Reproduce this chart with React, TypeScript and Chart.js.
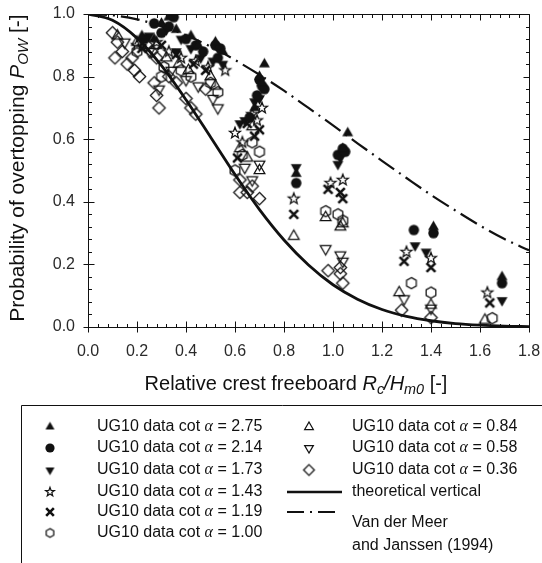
import React, { useEffect, useRef } from 'react';
import { Chart, registerables } from 'chart.js';
Chart.register(...registerables);

// ---- axis ticks ----
const xMajorTicks = [0, 0.2, 0.4, 0.6, 0.8, 1.0, 1.2, 1.4, 1.6, 1.8];
const yMajorTicks = [0, 0.2, 0.4, 0.6, 0.8, 1.0];

// ---- curves ----
const curveX = [0, 0.1, 0.2, 0.3, 0.4, 0.5, 0.6, 0.7, 0.8, 0.9, 1.0, 1.1, 1.2, 1.3, 1.4, 1.5, 1.6, 1.7, 1.8];
const theoreticalY = [1, 0.98, 0.923, 0.835, 0.726, 0.607, 0.487, 0.375, 0.278, 0.198, 0.135, 0.089, 0.056, 0.034, 0.02, 0.011, 0.006, 0.003, 0.0015];
const vdmY = [1, 0.996, 0.983, 0.961, 0.932, 0.896, 0.853, 0.806, 0.755, 0.7, 0.644, 0.587, 0.531, 0.476, 0.422, 0.372, 0.324, 0.281, 0.245];

// ---- data series [Rc/Hm0, Pow] ----
const cot275: [number, number][] = [
  [0.22, 0.93], [0.27, 0.92], [0.3, 0.97], [0.33, 0.99], [0.36, 0.95], [0.42, 0.93], [0.45, 0.9], [0.52, 0.91],
  [0.55, 0.88], [0.68, 0.7], [0.7, 0.8], [0.71, 0.78], [0.72, 0.84], [0.85, 0.49], [1.04, 0.57], [1.06, 0.62],
  [1.41, 0.32], [1.69, 0.16],
];
const cot214: [number, number][] = [
  [0.23, 0.92], [0.27, 0.97], [0.3, 0.94], [0.33, 0.96], [0.35, 0.99], [0.4, 0.92], [0.44, 0.9], [0.47, 0.88],
  [0.52, 0.9], [0.53, 0.86], [0.54, 0.89], [0.66, 0.67], [0.69, 0.74], [0.7, 0.79], [0.71, 0.77], [0.72, 0.76],
  [0.85, 0.46], [1.02, 0.55], [1.04, 0.57], [1.05, 0.56], [1.33, 0.31], [1.41, 0.3], [1.69, 0.14],
];
const cot173: [number, number][] = [
  [0.25, 0.93], [0.32, 0.95], [0.36, 0.88], [0.38, 0.92], [0.42, 0.89], [0.46, 0.86], [0.51, 0.85], [0.55, 0.84],
  [0.62, 0.65], [0.64, 0.66], [0.68, 0.72], [0.7, 0.73], [0.85, 0.51], [1.02, 0.52], [1.03, 0.54], [1.335, 0.26],
  [1.38, 0.24], [1.69, 0.085],
];
const cot143: [number, number][] = [
  [0.2, 0.9], [0.28, 0.91], [0.33, 0.88], [0.38, 0.86], [0.44, 0.85], [0.49, 0.83], [0.56, 0.82], [0.6, 0.62],
  [0.63, 0.59], [0.67, 0.68], [0.69, 0.66], [0.71, 0.7], [0.84, 0.41], [0.99, 0.46], [1.04, 0.47], [1.3, 0.24],
  [1.4, 0.22], [1.63, 0.11],
];
const cot119: [number, number][] = [
  [0.22, 0.89], [0.3, 0.9], [0.36, 0.87], [0.43, 0.84], [0.48, 0.82], [0.61, 0.54], [0.65, 0.65], [0.68, 0.61],
  [0.7, 0.63], [0.84, 0.36], [0.98, 0.44], [1.03, 0.43], [1.04, 0.41], [1.29, 0.21], [1.4, 0.19], [1.64, 0.077],
];
const cot100: [number, number][] = [
  [0.2, 0.88], [0.3, 0.8], [0.31, 0.83], [0.38, 0.82], [0.42, 0.8], [0.5, 0.78], [0.53, 0.75], [0.6, 0.5],
  [0.63, 0.55], [0.67, 0.59], [0.7, 0.56], [0.97, 0.37], [1.02, 0.36], [1.04, 0.34], [1.32, 0.14], [1.4, 0.11],
  [1.65, 0.028],
];
const cot084: [number, number][] = [
  [0.12, 0.93], [0.2, 0.91], [0.28, 0.9], [0.32, 0.86], [0.37, 0.84], [0.41, 0.82], [0.5, 0.8], [0.52, 0.77],
  [0.62, 0.57], [0.65, 0.54], [0.67, 0.64], [0.7, 0.5], [0.84, 0.29], [0.97, 0.35], [1.03, 0.32], [1.04, 0.33],
  [1.27, 0.11], [1.4, 0.07], [1.62, 0.022],
];
const cot058: [number, number][] = [
  [0.15, 0.91], [0.25, 0.88], [0.29, 0.76], [0.34, 0.82], [0.4, 0.79], [0.45, 0.77], [0.51, 0.73], [0.53, 0.7],
  [0.64, 0.51], [0.67, 0.47], [0.7, 0.52], [0.97, 0.25], [1.03, 0.23], [1.04, 0.21], [1.29, 0.09], [1.4, 0.06],
];
const cot036: [number, number][] = [
  [0.1, 0.94], [0.11, 0.86], [0.12, 0.91], [0.14, 0.88], [0.16, 0.84], [0.18, 0.86], [0.19, 0.82], [0.21, 0.8],
  [0.24, 0.9], [0.26, 0.88], [0.27, 0.78], [0.28, 0.86], [0.28, 0.74], [0.29, 0.7], [0.33, 0.8], [0.36, 0.78],
  [0.4, 0.73], [0.42, 0.7], [0.44, 0.68], [0.48, 0.76], [0.62, 0.47], [0.62, 0.43], [0.65, 0.43], [0.67, 0.45],
  [0.7, 0.41], [0.98, 0.18], [1.03, 0.19], [1.03, 0.17], [1.04, 0.14], [1.28, 0.054], [1.4, 0.03],
];

const seriesLabels = ['2.75', '2.14', '1.73', '1.43', '1.19', '1.00', '0.84', '0.58', '0.36'];

const SANS = "'Liberation Sans', Arial, sans-serif";
const SERIF = "'Liberation Serif', 'Times New Roman', serif";
const INK = '#111111';

type Kind = 'triUp' | 'circle' | 'triDown' | 'star' | 'cross' | 'hex' | 'triUpO' | 'triDownO' | 'diamond';

function makeMarker(kind: Kind, r: number): HTMLCanvasElement {
  const pad = 2;
  const size = Math.ceil(2 * r + 2 * pad);
  const c = document.createElement('canvas');
  c.width = size;
  c.height = size;
  const ctx = c.getContext('2d')!;
  const cx = size / 2;
  const cy = size / 2;
  ctx.strokeStyle = INK;
  ctx.fillStyle = INK;
  ctx.lineWidth = 1.25;
  ctx.lineJoin = 'miter';
  const poly = (n: number, rot: number, rr: number) => {
    ctx.beginPath();
    for (let i = 0; i < n; i++) {
      const a = rot + (i * 2 * Math.PI) / n;
      const px = cx + rr * Math.cos(a);
      const py = cy + rr * Math.sin(a);
      if (i === 0) ctx.moveTo(px, py);
      else ctx.lineTo(px, py);
    }
    ctx.closePath();
  };
  switch (kind) {
    case 'triUp':
      poly(3, -Math.PI / 2, r);
      ctx.fill();
      break;
    case 'triDown':
      poly(3, Math.PI / 2, r);
      ctx.fill();
      break;
    case 'circle':
      ctx.beginPath();
      ctx.arc(cx, cy, r, 0, Math.PI * 2);
      ctx.fill();
      break;
    case 'triUpO':
      poly(3, -Math.PI / 2, r);
      ctx.stroke();
      break;
    case 'triDownO':
      poly(3, Math.PI / 2, r);
      ctx.stroke();
      break;
    case 'diamond':
      poly(4, -Math.PI / 2, r);
      ctx.stroke();
      break;
    case 'hex':
      poly(6, -Math.PI / 2, r);
      ctx.stroke();
      break;
    case 'star': {
      ctx.beginPath();
      for (let i = 0; i < 10; i++) {
        const a = -Math.PI / 2 + (i * Math.PI) / 5;
        const rr = i % 2 === 0 ? r : r * 0.42;
        const px = cx + rr * Math.cos(a);
        const py = cy + rr * Math.sin(a);
        if (i === 0) ctx.moveTo(px, py);
        else ctx.lineTo(px, py);
      }
      ctx.closePath();
      ctx.stroke();
      break;
    }
    case 'cross': {
      ctx.lineWidth = 2.6;
      ctx.lineCap = 'butt';
      const d = r * 0.8;
      ctx.beginPath();
      ctx.moveTo(cx - d, cy - d);
      ctx.lineTo(cx + d, cy + d);
      ctx.moveTo(cx + d, cy - d);
      ctx.lineTo(cx - d, cy + d);
      ctx.stroke();
      break;
    }
  }
  return c;
}

const kinds: Kind[] = ['triUp', 'circle', 'triDown', 'star', 'cross', 'hex', 'triUpO', 'triDownO', 'diamond'];
const plotRadius: Record<Kind, number> = {
  triUp: 6.3, circle: 5.2, triDown: 6.3, star: 5.8, cross: 5.5, hex: 5.6, triUpO: 6.2, triDownO: 6.2, diamond: 6.2,
};
const legendRadius: Record<Kind, number> = {
  triUp: 5.2, circle: 4.6, triDown: 5.2, star: 4.6, cross: 4.8, hex: 4.4, triUpO: 5, triDownO: 5, diamond: 5.4,
};

type Seg = { t: string; it?: boolean; sub?: boolean; serif?: boolean };

function segFont(s: Seg, size: number) {
  const sz = s.sub ? size * 0.72 : size;
  return `${s.it ? 'italic ' : ''}${sz}px ${s.serif ? SERIF : SANS}`;
}

function drawRich(ctx: CanvasRenderingContext2D, segs: Seg[], x: number, y: number, size: number, align: 'left' | 'center') {
  let total = 0;
  const widths = segs.map((s) => {
    ctx.font = segFont(s, size);
    const w = ctx.measureText(s.t).width;
    total += w;
    return w;
  });
  let cx = align === 'center' ? x - total / 2 : x;
  ctx.textBaseline = 'middle';
  ctx.textAlign = 'left';
  segs.forEach((s, i) => {
    ctx.font = segFont(s, size);
    ctx.fillText(s.t, cx, s.sub ? y + size * 0.28 : y);
    cx += widths[i];
  });
}

const framePlugin = {
  id: 'frame',
  afterDraw(chart: any) {
    const { ctx, chartArea: a, scales } = chart;
    const xs = scales.x;
    const ys = scales.y;
    ctx.save();
    ctx.strokeStyle = INK;
    ctx.lineWidth = 1;
    const L = Math.round(a.left) + 0.5;
    const R = Math.round(a.right) + 0.5;
    const T = Math.round(a.top) + 0.5;
    const B = Math.round(a.bottom) + 0.5;
    ctx.beginPath();
    ctx.rect(L, T, R - L, B - T);
    ctx.stroke();
    ctx.beginPath();
    for (let i = 0; i <= 45; i++) {
      const v = i * 0.04;
      const px = Math.round(xs.getPixelForValue(v)) + 0.5;
      const major = i % 5 === 0;
      const inner = major ? 6 : 3.5;
      ctx.moveTo(px, B + (major ? 5 : 0));
      ctx.lineTo(px, B - inner);
      ctx.moveTo(px, T);
      ctx.lineTo(px, T + inner);
    }
    for (let i = 0; i <= 25; i++) {
      const v = i * 0.04;
      const py = Math.round(ys.getPixelForValue(v)) + 0.5;
      const major = i % 5 === 0;
      const inner = major ? 6 : 3.5;
      ctx.moveTo(L - (major ? 5 : 0), py);
      ctx.lineTo(L + inner, py);
      ctx.moveTo(R, py);
      ctx.lineTo(R - inner, py);
    }
    ctx.stroke();

    // axis titles
    ctx.fillStyle = INK;
    drawRich(
      ctx,
      [
        { t: 'Relative crest freeboard ' },
        { t: 'R', it: true },
        { t: 'c', it: true, sub: true },
        { t: '/', it: true },
        { t: 'H', it: true },
        { t: 'm0', it: true, sub: true },
        { t: ' [-]' },
      ],
      296,
      384,
      20,
      'center'
    );
    ctx.save();
    ctx.translate(18, 168);
    ctx.rotate(-Math.PI / 2);
    drawRich(
      ctx,
      [{ t: 'Probability of overtopping ' }, { t: 'P', it: true }, { t: 'OW', it: true, sub: true }, { t: ' [-]' }],
      0,
      0,
      21,
      'center'
    );
    ctx.restore();

    // legend box
    ctx.beginPath();
    ctx.rect(21.5, 405.5, 560, 200);
    ctx.stroke();
    const rows = [427, 448, 470, 492, 512, 533];
    const markers = kinds.map((k) => makeMarker(k, legendRadius[k]));
    const label = (v: string, x: number, y: number) =>
      drawRich(ctx, [{ t: 'UG10 data cot ' }, { t: 'α', it: true, serif: true }, { t: ' = ' + v }], x, y, 16, 'left');
    for (let i = 0; i < 6; i++) {
      const m = markers[i];
      ctx.drawImage(m, 50 - m.width / 2, rows[i] - m.height / 2);
      label(seriesLabels[i], 97, rows[i]);
    }
    for (let i = 6; i < 9; i++) {
      const m = markers[i];
      const r = rows[i - 6];
      ctx.drawImage(m, 309 - m.width / 2, r - m.height / 2);
      label(seriesLabels[i], 352, r);
    }
    ctx.lineWidth = 2.6;
    ctx.beginPath();
    ctx.moveTo(287, rows[3]);
    ctx.lineTo(342, rows[3]);
    ctx.stroke();
    ctx.lineWidth = 2;
    ctx.setLineDash([17, 6, 2, 6]);
    ctx.beginPath();
    ctx.moveTo(287, rows[4]);
    ctx.lineTo(340, rows[4]);
    ctx.stroke();
    ctx.setLineDash([]);
    ctx.font = `16px ${SANS}`;
    ctx.textAlign = 'left';
    ctx.textBaseline = 'middle';
    ctx.fillText('theoretical vertical', 352, rows[3]);
    ctx.fillText('Van der Meer', 352, 523);
    ctx.fillText('and Janssen (1994)', 352, 546);
    ctx.restore();
  },
};

export default function App() {
  const ref = useRef<HTMLCanvasElement | null>(null);
  useEffect(() => {
    if (!ref.current) return;
    const toPts = (arr: [number, number][]) => arr.map(([x, y]) => ({ x, y }));
    const pointSets = [cot275, cot214, cot173, cot143, cot119, cot100, cot084, cot058, cot036];
    const pointDatasets = pointSets.map((arr, i) => ({
      label: 'UG10 data cot α = ' + seriesLabels[i],
      data: toPts(arr),
      pointStyle: makeMarker(kinds[i], plotRadius[kinds[i]]) as any,
      pointRadius: plotRadius[kinds[i]],
      showLine: false,
    }));
    const chart = new Chart(ref.current, {
      type: 'scatter',
      data: {
        datasets: [
          {
            label: 'theoretical vertical',
            data: curveX.map((x, i) => ({ x, y: theoreticalY[i] })),
            showLine: true,
            borderColor: INK,
            borderWidth: 2.8,
            pointRadius: 0,
            cubicInterpolationMode: 'monotone',
          } as any,
          {
            label: 'Van der Meer and Janssen (1994)',
            data: curveX.map((x, i) => ({ x, y: vdmY[i] })),
            showLine: true,
            borderColor: INK,
            borderWidth: 2.2,
            borderDash: [19, 6, 2, 6],
            pointRadius: 0,
            cubicInterpolationMode: 'monotone',
          } as any,
          ...pointDatasets,
        ],
      },
      options: {
        responsive: false,
        animation: false,
        layout: { padding: { top: 14, right: 13, left: 0, bottom: 0 } },
        plugins: { legend: { display: false }, tooltip: { enabled: false } },
        scales: {
          x: {
            type: 'linear',
            min: 0,
            max: 1.8,
            afterFit: (s: any) => {
              s.height = 236;
              s.paddingLeft = 0;
              s.paddingRight = 0;
            },
            afterBuildTicks: (s: any) => {
              s.ticks = xMajorTicks.map((v) => ({ value: v }));
            },
            ticks: {
              callback: (v: any) => Number(v).toFixed(1),
              font: { family: SANS, size: 16 },
              color: '#2a2a2a',
              padding: 15,
              maxRotation: 0,
            },
            grid: { display: false, drawTicks: false },
            border: { display: false },
          },
          y: {
            type: 'linear',
            min: 0,
            max: 1,
            afterFit: (s: any) => {
              s.width = 88;
              s.paddingTop = 0;
              s.paddingBottom = 0;
            },
            afterBuildTicks: (s: any) => {
              s.ticks = yMajorTicks.map((v) => ({ value: v }));
            },
            ticks: {
              callback: (v: any) => Number(v).toFixed(1),
              font: { family: SANS, size: 16 },
              color: '#2a2a2a',
              padding: 13,
            },
            grid: { display: false, drawTicks: false },
            border: { display: false },
          },
        },
      } as any,
      plugins: [framePlugin],
    });
    return () => chart.destroy();
  }, []);
  return (
    <div style={{ position: 'absolute', left: 0, top: 0, width: 542, height: 563, background: '#fff' }}>
      <canvas ref={ref} width={542} height={563} style={{ display: 'block' }} />
    </div>
  );
}
